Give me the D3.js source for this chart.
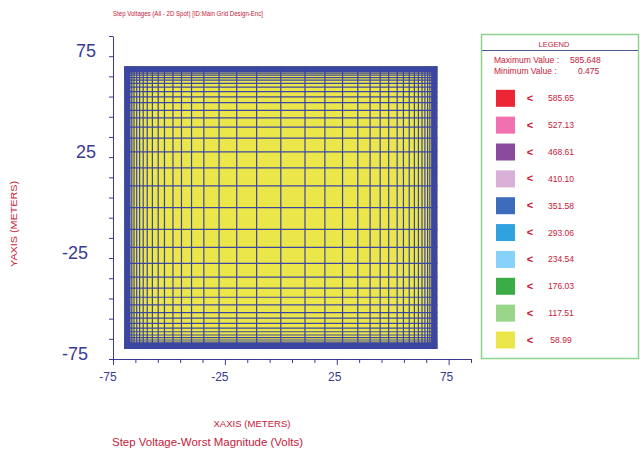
<!DOCTYPE html>
<html><head><meta charset="utf-8">
<script src="https://cdn.jsdelivr.net/npm/d3@7"></script>
<style>html,body{margin:0;padding:0;background:#fff;}svg{display:block;font-family:"Liberation Sans",Arial,sans-serif;}</style>
</head><body>
<svg id="c" width="640" height="449"></svg>
<script>
// ---- data ----
const chartTitle = "Step Voltages (All - 2D Spot) [ID:Main Grid Design-Enc]";
const xAxisTitle = "XAXIS (METERS)";
const yAxisTitle = "YAXIS (METERS)";
const bottomTitle = "Step Voltage-Worst Magnitude (Volts)";
const xTickLabels = [-75, -25, 25, 75];
const yTickLabels = [75, 25, -25, -75];
const axisDomain = [-75, 85];
const tickStep = 10;
const gridExtent = [-70, 70];
// conductor positions (meters from centre, positive half; mirrored)
const gridHalf = [0, 10.8, 19.7, 27.6, 34.4, 39.9, 44.4, 48.2, 52.0, 54.8, 57.4, 59.7, 61.5, 63.1, 64.4, 65.6, 66.6, 67.5, 68.3, 69.0, 69.6];
const legendValues = [585.65, 527.13, 468.61, 410.10, 351.58, 293.06, 234.54, 176.03, 117.51, 58.99];
const legendColors = ["#ec2634", "#f070b0", "#8a4a9e", "#d8b0d8", "#3d6cbc", "#31a2e0", "#86d2f8", "#3aae44", "#9ad68a", "#ebe74a"];
const maxValue = "585.648";
const minValue = "0.475";
const regionValue = 40; // all computed step voltages fall in the lowest band

// ---- drawing ----
const svg = d3.select("#c");
const axisCol = "#3a3a94", red = "#c4203a", gridCol = "#3c45a3";
const x = d3.scaleLinear().domain(axisDomain).range([113, 471]);
const y = d3.scaleLinear().domain(axisDomain).range([359, 36]);
const tickVals = d3.range(axisDomain[0], axisDomain[1] + 0.1, tickStep);

// colour scale from legend thresholds
const sortedVals = legendValues.slice().reverse();
const sortedCols = legendColors.slice().reverse();
const color = d3.scaleThreshold().domain(sortedVals).range(sortedCols.concat([sortedCols[sortedCols.length-1]]));

svg.append("text").attr("x", 113).attr("y", 16).attr("fill", red)
  .attr("font-size", 6.5).attr("textLength", 150).attr("lengthAdjust", "spacingAndGlyphs").text(chartTitle);

// region fill
const g = svg.append("g");
g.append("rect").attr("x", x(gridExtent[0])).attr("y", y(gridExtent[1]))
  .attr("width", x(gridExtent[1]) - x(gridExtent[0])).attr("height", y(gridExtent[0]) - y(gridExtent[1]))
  .attr("fill", color(regionValue));

const gridPos = gridHalf.slice(1).map(d => -d).reverse().concat(gridHalf);
g.selectAll("line.v").data(gridPos).join("line").attr("class", "v")
  .attr("x1", d => x(d)).attr("x2", d => x(d))
  .attr("y1", y(gridExtent[1])).attr("y2", y(gridExtent[0]))
  .attr("stroke", gridCol).attr("stroke-width", 1.2);
g.selectAll("line.h").data(gridPos).join("line").attr("class", "h")
  .attr("y1", d => y(d)).attr("y2", d => y(d))
  .attr("x1", x(gridExtent[0])).attr("x2", x(gridExtent[1]))
  .attr("stroke", gridCol).attr("stroke-width", 1.2);
// perimeter band
const bw = 6;
g.append("rect").attr("x", x(gridExtent[0]) + bw/2).attr("y", y(gridExtent[1]) + bw/2)
  .attr("width", x(gridExtent[1]) - x(gridExtent[0]) - bw).attr("height", y(gridExtent[0]) - y(gridExtent[1]) - bw)
  .attr("fill", "none").attr("stroke", "#3a46a2").attr("stroke-width", bw);

// axes
const yAxis = svg.append("g").attr("transform", `translate(${x(axisDomain[0])},0)`)
  .call(d3.axisLeft(y).tickValues(tickVals).tickSize(4).tickSizeOuter(0).tickFormat(""));
const xAxis = svg.append("g").attr("transform", `translate(0,${y(axisDomain[0])})`)
  .call(d3.axisBottom(x).tickValues(tickVals).tickSize(4).tickSizeOuter(0).tickFormat(""));
[xAxis, yAxis].forEach(a => { a.selectAll("path,line").attr("stroke", axisCol).attr("stroke-width", 1); });
xAxis.selectAll(".tick line").filter(d => xTickLabels.includes(d)).attr("y2", 6);

svg.selectAll("text.yl").data(yTickLabels).join("text").attr("class", "yl")
  .attr("x", d => x(axisDomain[0]) - (d < 0 ? 25 : 17)).attr("y", d => y(d) + 1)
  .attr("text-anchor", "end").attr("font-size", 18).attr("fill", axisCol).text(d => d);
svg.selectAll("text.xl").data(xTickLabels).join("text").attr("class", "xl")
  .attr("x", d => x(d) - (d < 0 ? 5 : 2)).attr("y", 381)
  .attr("text-anchor", "middle").attr("font-size", 12).attr("fill", axisCol).text(d => d);

svg.append("text").attr("x", 252).attr("y", 427).attr("text-anchor", "middle")
  .attr("font-size", 9.5).attr("fill", red).attr("textLength", 77).attr("lengthAdjust", "spacingAndGlyphs").text(xAxisTitle);
svg.append("text").attr("transform", "translate(17,224) rotate(-90)").attr("text-anchor", "middle")
  .attr("font-size", 9).attr("fill", red).attr("textLength", 86).attr("lengthAdjust", "spacingAndGlyphs").text(yAxisTitle);
svg.append("text").attr("x", 112).attr("y", 446)
  .attr("font-size", 11).attr("fill", red).attr("textLength", 191).attr("lengthAdjust", "spacingAndGlyphs").text(bottomTitle);

// legend
const L = svg.append("g");
L.append("rect").attr("x", 481.5).attr("y", 34.5).attr("width", 157).attr("height", 324)
  .attr("fill", "#fff").attr("stroke", "#8ed48e").attr("stroke-width", 1.5);
L.append("line").attr("x1", 482).attr("x2", 638).attr("y1", 50.5).attr("y2", 50.5).attr("stroke", "#4a5a8a").attr("stroke-width", 1);
L.append("text").attr("x", 554).attr("y", 46.5).attr("text-anchor", "middle").attr("font-size", 7.5).attr("fill", red).text("LEGEND");
L.append("text").attr("x", 494).attr("y", 63).attr("font-size", 8.5).attr("fill", red).text("Maximum Value :");
L.append("text").attr("x", 570).attr("y", 63).attr("font-size", 8.5).attr("fill", red).text(maxValue);
L.append("text").attr("x", 494).attr("y", 74).attr("font-size", 8.5).attr("fill", red).text("Minimum Value :");
L.append("text").attr("x", 578).attr("y", 74).attr("font-size", 8.5).attr("fill", red).text(minValue);
const row = d3.scaleLinear().domain([0, legendValues.length - 1]).range([98.3, 340]);
const rows = L.selectAll("g.r").data(legendValues).join("g").attr("class", "r")
  .attr("transform", (d, i) => `translate(0,${row(i)})`);
rows.append("rect").attr("x", 496).attr("y", -8.5).attr("width", 19).attr("height", 17).attr("fill", (d, i) => legendColors[i]);
rows.append("text").attr("x", 530).attr("y", 3.5).attr("text-anchor", "middle").attr("font-size", 11)
  .attr("font-weight", "bold").attr("fill", "#d01030").text("<");
rows.append("text").attr("x", 561).attr("y", 3).attr("text-anchor", "middle").attr("font-size", 8.5)
  .attr("fill", red).text(d => d.toFixed(2));
</script>
</body></html>
